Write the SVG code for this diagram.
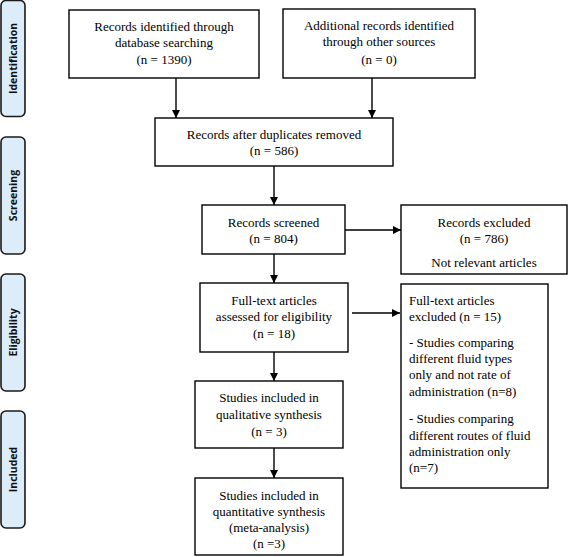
<svg xmlns="http://www.w3.org/2000/svg" width="568" height="557" viewBox="0 0 568 557">
<style>
.box{fill:#fff;stroke:#000;stroke-width:1.4}
.tag{fill:#dcecf9;stroke:#1a1a1a;stroke-width:1.6}
.t{font-family:'Liberation Serif','DejaVu Serif',serif;font-size:13px;fill:#000}
.c{text-anchor:middle}
.lab{font-family:'Open Sans','DejaVu Sans',sans-serif;font-weight:bold;font-size:10.5px;fill:#111;text-anchor:middle}
.ln{stroke:#000;stroke-width:1.4;fill:none}
</style>
<defs>
<marker id="ah" viewBox="0 0 8 8" refX="8" refY="4" markerWidth="8" markerHeight="8" markerUnits="userSpaceOnUse" orient="auto">
<path d="M0,0 L8,4 L0,8 z" fill="#000"/>
</marker>
</defs>
<g id="phase-identification"><rect class="tag" x="1" y="0.5" width="24" height="116" rx="5"/><text class="lab" transform="translate(16.5,58.5) rotate(-90)">Identification</text></g>
<g id="phase-screening"><rect class="tag" x="1" y="137" width="24" height="117" rx="5"/><text class="lab" transform="translate(16.5,195.5) rotate(-90)">Screening</text></g>
<g id="phase-eligibility"><rect class="tag" x="1" y="274" width="24" height="117" rx="5"/><text class="lab" transform="translate(16.5,332.5) rotate(-90)">Eligibility</text></g>
<g id="phase-included"><rect class="tag" x="1" y="411" width="24" height="117" rx="5"/><text class="lab" transform="translate(16.5,469.5) rotate(-90)">Included</text></g>

<g id="connectors">
<line class="ln" x1="176" y1="78" x2="176" y2="118" marker-end="url(#ah)"/>
<line class="ln" x1="372" y1="78" x2="372" y2="118" marker-end="url(#ah)"/>
<line class="ln" x1="274" y1="166" x2="274" y2="205" marker-end="url(#ah)"/>
<line class="ln" x1="345" y1="230" x2="401" y2="230" marker-end="url(#ah)"/>
<line class="ln" x1="274" y1="254" x2="274" y2="283" marker-end="url(#ah)"/>
<line class="ln" x1="352" y1="313" x2="400" y2="313" marker-end="url(#ah)"/>
<line class="ln" x1="274" y1="352" x2="274" y2="381" marker-end="url(#ah)"/>
<line class="ln" x1="274" y1="448" x2="274" y2="478" marker-end="url(#ah)"/>
</g>

<g id="n-db" font-family="Liberation Serif, serif"><rect class="box" x="69" y="10" width="190" height="68"/>
<text class="t c" x="164" y="30.5">Records identified through</text>
<text class="t c" x="164" y="46.5">database searching</text>
<text class="t c" x="164" y="64">(n = 1390)</text></g>

<g id="n-other"><rect class="box" x="283" y="9" width="192" height="69"/>
<text class="t c" x="379" y="29.5">Additional records identified</text>
<text class="t c" x="379" y="46">through other sources</text>
<text class="t c" x="379" y="63.5">(n = 0)</text></g>

<g id="n-dedup"><rect class="box" x="155" y="118" width="238" height="48"/>
<text class="t c" x="274" y="138.5">Records after duplicates removed</text>
<text class="t c" x="274" y="154.5">(n = 586)</text></g>

<g id="n-screened"><rect class="box" x="202" y="205" width="143" height="49"/>
<text class="t c" x="273.5" y="226.5">Records screened</text>
<text class="t c" x="273.5" y="242.5">(n = 804)</text></g>

<g id="n-excl"><rect class="box" x="401" y="205" width="166" height="69"/>
<text class="t c" x="484" y="226.5">Records excluded</text>
<text class="t c" x="484" y="242.5">(n = 786)</text>
<text class="t c" x="484" y="266.5">Not relevant articles</text></g>

<g id="n-fulltext"><rect class="box" x="200" y="283" width="148" height="69"/>
<text class="t c" x="274" y="304.5">Full-text articles</text>
<text class="t c" x="274" y="320.5">assessed for eligibility</text>
<text class="t c" x="274" y="337.5">(n = 18)</text></g>

<g id="n-ftexcl"><rect class="box" x="401" y="284" width="147" height="204"/>
<text class="t" x="409" y="304.5">Full-text articles</text>
<text class="t" x="409" y="320.5">excluded (n = 15)</text>
<text class="t" x="409" y="346.5">- Studies comparing</text>
<text class="t" x="409" y="362.5">different fluid types</text>
<text class="t" x="409" y="379">only and not rate of</text>
<text class="t" x="409" y="396">administration (n=8)</text>
<text class="t" x="409" y="423">- Studies comparing</text>
<text class="t" x="409" y="439.5">different routes of fluid</text>
<text class="t" x="409" y="455.5">administration only</text>
<text class="t" x="409" y="471.5">(n=7)</text></g>

<g id="n-qual"><rect class="box" x="195" y="381" width="148" height="67"/>
<text class="t c" x="269" y="401.5">Studies included in</text>
<text class="t c" x="269" y="419">qualitative synthesis</text>
<text class="t c" x="269" y="435.5">(n = 3)</text></g>

<g id="n-quant"><rect class="box" x="195" y="478" width="148" height="77"/>
<text class="t c" x="269" y="499.5">Studies included in</text>
<text class="t c" x="269" y="516">quantitative synthesis</text>
<text class="t c" x="269" y="531.5">(meta-analysis)</text>
<text class="t c" x="269" y="547.5">(n =3)</text></g>
</svg>
